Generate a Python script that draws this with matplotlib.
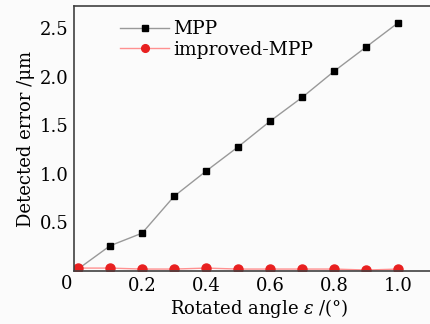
import matplotlib
matplotlib.use("Agg")
import matplotlib.pyplot as plt

# data
angle = [0.0, 0.1, 0.2, 0.3, 0.4, 0.5, 0.6, 0.7, 0.8, 0.9, 1.0]
mpp = [0.02, 0.26, 0.39, 0.77, 1.03, 1.28, 1.545, 1.79, 2.06, 2.31, 2.56]
improved = [0.03, 0.03, 0.02, 0.02, 0.03, 0.02, 0.02, 0.02, 0.02, 0.01, 0.02]
xticks = [0.2, 0.4, 0.6, 0.8, 1.0]
yticks = [0.5, 1.0, 1.5, 2.0, 2.5]

plt.rcParams['font.family'] = 'DejaVu Serif'
plt.rcParams['mathtext.fontset'] = 'dejavuserif'

fig = plt.figure(figsize=(4.3, 3.24), dpi=100)
fig.patch.set_facecolor('#fbfbfb')
ax = fig.add_axes([74 / 430, 53 / 324, 370 / 430, 265 / 324])
ax.set_facecolor('#fbfbfb')

ax.plot(angle, mpp, color='#999999', lw=1, marker='s', ms=5,
        mfc='black', mec='black', label='MPP')
ax.plot(angle, improved, color='#ff9090', lw=1, marker='o', ms=6.5,
        mfc='#e82020', mec='#e82020', label='improved-MPP')

ax.set_xlim(-0.0125, 1.142)
ax.set_ylim(0, 2.73)
ax.set_xticks(xticks)
ax.set_xticklabels(['0.2', '0.4', '0.6', '0.8', '1.0'])
ax.set_yticks(yticks)
ax.tick_params(direction='in', length=0, labelsize=13, colors='black', pad=4)
ax.text(-0.019, -13 / 265, '0', transform=ax.transAxes, fontsize=13,
        ha='center', va='center')

for s in ['top', 'bottom', 'left']:
    ax.spines[s].set_color('#404040')
    ax.spines[s].set_linewidth(1.2)
ax.spines['right'].set_visible(False)

ax.set_xlabel('Rotated angle $\\varepsilon$ /(°)', fontsize=13, labelpad=2)
ax.set_ylabel('Detected error /μm', fontsize=13, labelpad=3)

ax.legend(loc='upper left', bbox_to_anchor=(0.105, 0.975), frameon=False,
          fontsize=13.5, handlelength=2.6, handletextpad=0.2,
          labelspacing=0.15, borderaxespad=0, markerscale=0.85)

fig.savefig('out.png', dpi=100, facecolor=fig.get_facecolor())
